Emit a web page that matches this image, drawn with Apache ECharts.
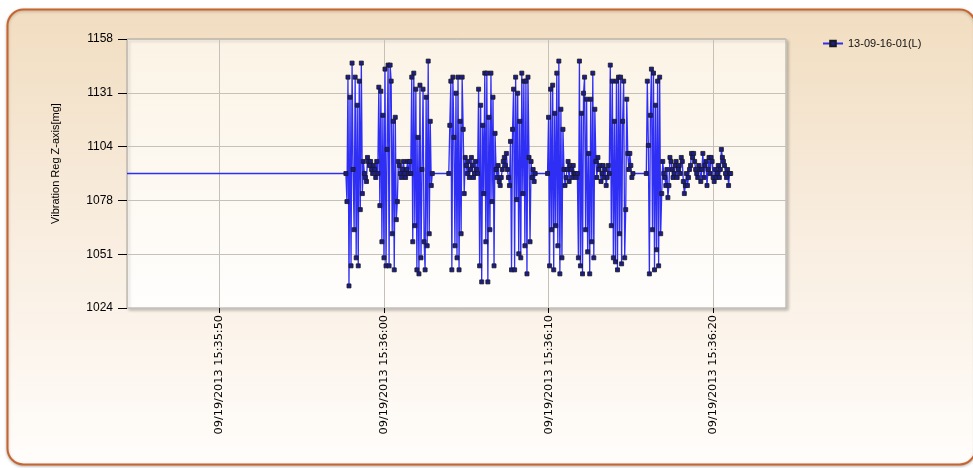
<!DOCTYPE html>
<html><head><meta charset="utf-8">
<script src="https://cdn.jsdelivr.net/npm/echarts@6/dist/echarts.min.js"></script>
<style>html,body{margin:0;padding:0;background:#fff}#c{width:973px;height:468px}</style>
</head><body><div id="c"></div>
<script>
const seriesName = '13-09-16-01(L)';
const yAxisTitle = 'Vibration Reg Z-axis[mg]';
const yTickLabels = ['1024', '1051', '1078', '1104', '1131', '1158'];
const yRange = [1024, 1158];
const xRange = ['2013-09-19T15:35:44.377Z', '2013-09-19T15:36:24.414Z'];
const leadIn = ['2013-09-19T15:35:44.377Z', 1091];
const sampleStart = '2013-09-19T15:35:57.676Z';
const samplePeriodMs = 62.5;
const vibration = [
  1091, 1077, 1139, 1035, 1129, 1045, 1146, 1093, 1063, 1139, 1049, 1125, 1045, 1137, 1073, 1146, 1081,
  1097, 1091, 1089, 1087, 1099, 1097, 1095, 1097, 1093, 1091, 1095, 1093, 1089, 1097,
  1091, 1134, 1075, 1132, 1057, 1120, 1049, 1143, 1045, 1103, 1145, 1045, 1145, 1137, 1061, 1117, 1043, 1119, 1068,
  1077, 1097, 1095, 1091, 1089, 1093, 1097, 1091, 1089, 1093, 1097, 1091, 1097, 1091,
  1139, 1057, 1141, 1065, 1133, 1043, 1109, 1041, 1135, 1049, 1093, 1133, 1057, 1043, 1129, 1055, 1147, 1061, 1117, 1085,
  1091,
  null, null, null, null, null, null, null, null, null, null, null, null, null, null, null,
  1091, 1115, 1137, 1043, 1139, 1109, 1055, 1131, 1049, 1139, 1043, 1117, 1061, 1139,
  1113, 1081, 1099, 1095, 1091, 1097, 1089, 1093, 1099, 1095, 1089, 1091, 1097, 1093, 1091,
  1133, 1045, 1125, 1037, 1115, 1081, 1141, 1057, 1141, 1037, 1119, 1063, 1141, 1077, 1129, 1045,
  1111, 1093, 1089, 1095, 1087, 1085, 1089, 1093, 1097, 1099, 1095, 1101, 1093, 1089, 1085,
  1107, 1043, 1113, 1133, 1043, 1139, 1078, 1131, 1051, 1117, 1049, 1141, 1081, 1137, 1055, 1137, 1041, 1139, 1099,
  1057, 1097, 1089, 1093, 1087, 1091,
  null, null, null, null, null, null, null, null, null, null, null,
  1091, 1119, 1045, 1133, 1063, 1135, 1043, 1121, 1065, 1141, 1055, 1147, 1041, 1123, 1049, 1113,
  1093, 1085, 1089, 1093, 1097, 1087, 1095, 1093, 1089, 1095, 1091, 1091, 1089, 1091,
  1049, 1147, 1045, 1121, 1041, 1131, 1139, 1063, 1128, 1052, 1101, 1041, 1128, 1057, 1141, 1049, 1123,
  1097, 1089, 1099, 1093, 1095, 1087, 1091, 1095, 1089, 1093, 1085, 1089, 1095, 1091,
  1145, 1065, 1137, 1049, 1117, 1047, 1137, 1043, 1139, 1061, 1139, 1046, 1117, 1137, 1049, 1073, 1128,
  1101, 1093, 1101, 1095, 1089, 1091,
  null, null, null, null, null, null, null, null, null, null, null, null,
  1091, 1137, 1105, 1041, 1120, 1143, 1063, 1141, 1043, 1125, 1053, 1137, 1045, 1139, 1061,
  1081, 1097, 1091, 1089, 1085, 1093, 1079, 1085, 1099, 1097,
  1093, 1089, 1091, 1095, 1097, 1089, 1093, 1095, 1091, 1099,
  1097, 1087, 1081, 1085, 1091, 1085, 1089, 1093, 1095, 1101,
  1099, 1101, 1097, 1093, 1091, 1089, 1095, 1093, 1087, 1093,
  1101, 1089, 1095, 1097, 1085, 1093, 1099, 1091, 1099, 1097,
  1089, 1087, 1093, 1089, 1091, 1095, 1089, 1093, 1103, 1099,
  1097, 1095, 1091, 1089, 1093, 1085, 1091, 1091
];

const t0 = Date.parse(sampleStart);
const seriesData = [{ value: [Date.parse(leadIn[0]), leadIn[1]], symbol: 'none' }];
vibration.forEach(function (v, i) {
  if (v !== null) seriesData.push([t0 + i * samplePeriodMs, v]);
});

function pad(n) { return String(n).padStart(2, '0'); }
function fmtTime(v) {
  const d = new Date(v);
  return pad(d.getUTCMonth() + 1) + '/' + pad(d.getUTCDate()) + '/' + d.getUTCFullYear() + ' ' +
    pad(d.getUTCHours()) + ':' + pad(d.getUTCMinutes()) + ':' + pad(d.getUTCSeconds());
}

const G = echarts.graphic;
const chart = echarts.init(document.getElementById('c'), null, { renderer: 'canvas' });
chart.setOption({
  animation: false,
  backgroundColor: '#ffffff',
  graphic: {
    elements: [{
      type: 'rect', z: -100, silent: true,
      shape: { x: 7.5, y: 9.5, width: 968, height: 455, r: 16 },
      style: {
        fill: new G.LinearGradient(0, 0, 0, 1, [
          { offset: 0, color: '#f1ddc0' },
          { offset: 0.45, color: '#f8ecdd' },
          { offset: 1, color: '#fffdfb' }
        ]),
        stroke: '#c8652e', lineWidth: 2,
        shadowBlur: 3, shadowColor: 'rgba(0,0,0,0.25)', shadowOffsetY: 1
      }
    }]
  },
  legend: {
    left: 817, top: 33, itemWidth: 20, itemHeight: 7, itemGap: 5,
    textStyle: { fontSize: 11, color: '#111', fontFamily: 'Liberation Sans, Arial, sans-serif' },
    data: [seriesName]
  },
  grid: {
    left: 127, top: 39, width: 659, height: 269,
    show: true,
    backgroundColor: new G.LinearGradient(0, 0, 0, 1, [
      { offset: 0, color: '#fbf3e5' },
      { offset: 1, color: '#fffefd' }
    ]),
    borderColor: '#a9a49c', borderWidth: 1,
    shadowColor: 'rgba(0,0,0,0.22)', shadowBlur: 3, shadowOffsetX: 2, shadowOffsetY: 2
  },
  xAxis: [{
    type: 'value',
    min: Date.parse(xRange[0]), max: Date.parse(xRange[1]),
    splitNumber: 4,
    axisLine: { show: false },
    axisTick: { show: true, length: 5, lineStyle: { color: '#000' } },
    axisLabel: {
      rotate: 90, margin: 7, formatter: fmtTime,
      showMinLabel: false, showMaxLabel: false,
      fontSize: 11.3, color: '#000', fontFamily: 'DejaVu Sans, sans-serif'
    },
    splitLine: { show: true, lineStyle: { color: '#c6c1b8', width: 1 } }
  }],
  yAxis: [{
    type: 'value', min: yRange[0], max: yRange[1], show: false,
    splitLine: { show: false }
  }, {
    type: 'value', min: 0, max: yTickLabels.length - 1, interval: 1, position: 'left',
    axisLine: { show: false },
    axisTick: { show: true, length: 9, lineStyle: { color: '#000' } },
    axisLabel: {
      margin: 14, fontSize: 12, color: '#000', fontFamily: 'Liberation Sans, Arial, sans-serif',
      formatter: function (v) { return yTickLabels[Math.round(v)]; }
    },
    splitLine: { show: true, lineStyle: { color: '#c6c1b8', width: 1 } },
    name: yAxisTitle, nameLocation: 'middle', nameRotate: 90, nameGap: 66,
    nameTextStyle: {
      fontSize: 11, color: '#000', fontFamily: 'Liberation Sans, Arial, sans-serif',
      padding: [0, 0, 0, 20]
    }
  }],
  series: [{
    type: 'line', name: seriesName, xAxisIndex: 0, yAxisIndex: 0,
    data: seriesData,
    symbol: 'rect', symbolSize: 4, showSymbol: true, showAllSymbol: true,
    connectNulls: true, clip: true,
    lineStyle: { color: '#2e2ef5', width: 1.3 },
    itemStyle: { color: '#1c1c8c', borderColor: '#1a1a1a', borderWidth: 0.8 },
    emphasis: { disabled: true }
  }]
});
</script>
</body></html>
